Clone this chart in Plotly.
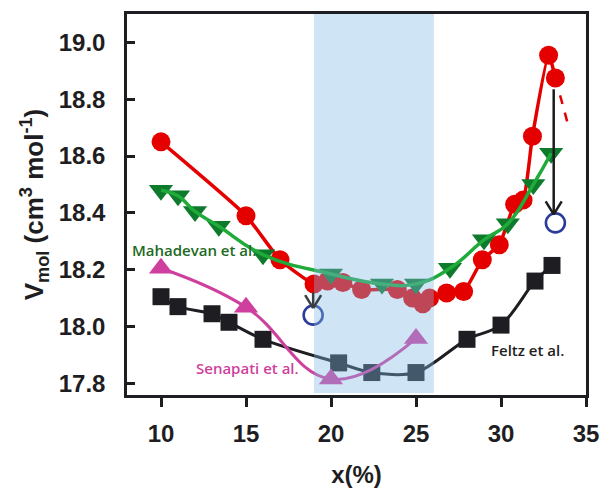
import plotly.graph_objects as go

# ---- data -----------------------------------------------------------------
# this work (red circles)
red_x = [10, 15, 17, 19, 19.8, 20.7, 21.8, 23.9, 24.8, 25.4, 25.8,
         26.8, 27.8, 28.9, 29.9, 30.8, 31.3, 31.85, 32.8, 33.2]
red_y = [18.65, 18.39, 18.235, 18.15, 18.16, 18.155, 18.13, 18.13, 18.10, 18.08, 18.10,
         18.118, 18.123, 18.235, 18.288, 18.43, 18.445, 18.67, 18.955, 18.875]
# dashed continuation after the last red point
red_dash_x = [33.2, 33.9]
red_dash_y = [18.875, 18.72]

# Mahadevan et al. (green, down triangles)
mah_x = [10, 11, 12, 13.4, 16, 20, 23, 25, 27, 29, 30.4, 31.9, 32.95]
mah_y = [18.48, 18.46, 18.405, 18.353, 18.253, 18.185, 18.15, 18.15, 18.205, 18.305, 18.362, 18.50, 18.61]

# Senapati et al. (magenta, up triangles)
sen_x = [10, 15, 20, 25]
sen_y = [18.205, 18.068, 17.815, 17.958]

# Feltz et al. (black squares)
fel_x = [10, 11, 13, 14, 16, 20.45, 22.4, 25, 28, 30, 32, 33]
fel_y = [18.105, 18.07, 18.045, 18.015, 17.955, 17.872, 17.838, 17.838, 17.955, 18.005, 18.16, 18.215]

# open circles the arrows point to
open_x = [18.95, 33.2]
open_y = [18.04, 18.365]

# arrows: start (x, y) -> tip (x, y)
arrow_x0 = [18.95, 33.1]
arrow_y0 = [18.12, 18.835]
arrow_x1 = [18.95, 33.1]
arrow_y1 = [18.065, 18.395]
arrow_colors = ["#3a3f45", "#1c1c1c"]

# compositional window highlighted in blue
band_x = [19.0, 26.05]

x_ticks = [10, 15, 20, 25, 30, 35]
y_ticks = [17.8, 18.0, 18.2, 18.4, 18.6, 18.8, 19.0]

RED = "#e50000"
GREEN_M = "#0d7a2c"
GREEN_L = "#1faa3a"
MAG = "#cf3f9e"
BLACK = "#1e1e22"
BLUE = "#2b3c98"

fig = go.Figure()

fig.add_trace(go.Scatter(x=fel_x, y=fel_y, mode="lines+markers",
                         line=dict(color=BLACK, width=3, shape="spline", smoothing=0.9),
                         marker=dict(symbol="square", size=17, color=BLACK, line=dict(width=0))))
fig.add_trace(go.Scatter(x=sen_x, y=sen_y, mode="lines",
                         line=dict(color=MAG, width=3, shape="spline", smoothing=1.2)))
fig.add_trace(go.Scatter(x=sen_x, y=sen_y, mode="markers",
                         marker=dict(symbol="triangle-up", size=21, color=MAG, line=dict(width=0))))
fig.add_trace(go.Scatter(x=red_x, y=red_y, mode="lines+markers",
                         line=dict(color=RED, width=3.5, shape="spline", smoothing=0.5),
                         marker=dict(symbol="circle", size=19, color=RED, line=dict(width=0))))
fig.add_trace(go.Scatter(x=red_dash_x, y=red_dash_y, mode="lines",
                         line=dict(color=RED, width=2.5, dash="dash")))
fig.add_trace(go.Scatter(x=mah_x, y=mah_y, mode="markers",
                         marker=dict(symbol="triangle-down", size=21, color=GREEN_M, line=dict(width=0))))
fig.add_trace(go.Scatter(x=mah_x, y=mah_y, mode="lines",
                         line=dict(color=GREEN_L, width=3.5, shape="spline", smoothing=1.3)))
fig.add_trace(go.Scatter(x=open_x, y=open_y, mode="markers",
                         marker=dict(symbol="circle-open", size=19, color=BLUE, line=dict(width=2.6))))

shapes = [dict(type="rect", xref="x", yref="y", x0=band_x[0], x1=band_x[1], y0=17.766, y1=19.1,
               fillcolor="rgb(129,184,226)", opacity=0.38, line=dict(width=0), layer="above")]
for x0, y0, x1, y1, c in zip(arrow_x0, arrow_y0, arrow_x1, arrow_y1, arrow_colors):
    shapes.append(dict(type="line", xref="x", yref="y", x0=x0, y0=y0, x1=x1, y1=y1,
                       line=dict(color=c, width=2.5), layer="above"))
    for side in (-8, 8):
        shapes.append(dict(type="line", xref="x", yref="y", xsizemode="pixel", ysizemode="pixel",
                           xanchor=x1, yanchor=y1, x0=side, y0=13, x1=0, y1=0,
                           line=dict(color=c, width=2.5), layer="above"))

label_font = dict(family="Open Sans, sans-serif", size=15, weight=600)
annotations = [
    dict(x=8.15, y=18.27, text="Mahadevan et al.", showarrow=False, xanchor="left",
         font=dict(color="#1d6a22", **label_font)),
    dict(x=11.95, y=17.853, text="Senapati et al.", showarrow=False, xanchor="left",
         font=dict(color=MAG, **label_font)),
    dict(x=29.3, y=17.917, text="Feltz et al.", showarrow=False, xanchor="left",
         font=dict(color=BLACK, **label_font)),
]

axis_font = dict(family="Liberation Sans, Arial, sans-serif", size=24, color=BLACK, weight="bold")

fig.update_layout(
    width=603, height=489,
    margin=dict(l=127, r=17, t=14, b=94),
    paper_bgcolor="white", plot_bgcolor="white",
    showlegend=False,
    shapes=shapes, annotations=annotations,
    xaxis=dict(range=[8, 35], tickvals=x_ticks, ticks="outside", ticklen=9, tickwidth=2.5,
               tickcolor=BLACK, showline=True, linecolor=BLACK, linewidth=2.5, mirror=True,
               showgrid=False, zeroline=False, tickfont=axis_font, ticklabelstandoff=6,
               automargin=False,
               title=dict(text="x(%)", font=axis_font, standoff=21)),
    yaxis=dict(range=[17.759, 19.1], tickvals=y_ticks, tickformat=".1f", ticks="inside",
               ticklen=8, tickwidth=2.5, tickcolor=BLACK, showline=True, linecolor=BLACK,
               linewidth=2.5, mirror=True, showgrid=False, zeroline=False, tickfont=axis_font,
               ticklabelstandoff=14, automargin=False,
               title=dict(text="V<sub>mol</sub> (cm<sup>3</sup> mol<sup>-1</sup>)",
                          font=dict(family="Liberation Sans, Arial, sans-serif", size=26,
                                    color=BLACK, weight="bold"), standoff=8)),
)

fig.write_html("out.html")
